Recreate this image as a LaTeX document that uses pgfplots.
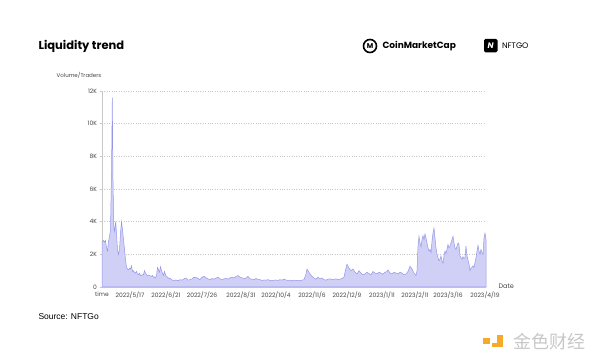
\documentclass[border=0pt]{standalone}
\usepackage{pgfplots}
\pgfplotsset{compat=1.18}
\usepackage{fontspec}
\setmainfont{Poppins}
\newfontfamily\srcfont{Liberation Sans}
\newfontfamily\cjk{Noto Sans CJK SC}
\definecolor{fillc}{RGB}{208,208,246}
\definecolor{linec}{RGB}{150,150,232}
\definecolor{tickc}{RGB}{70,70,70}
\definecolor{gridc}{RGB}{200,200,200}
\definecolor{wmo}{RGB}{245,170,40}
\begin{document}
\begin{tikzpicture}
\path[use as bounding box] (0pt,0pt) rectangle (600pt,363pt);
\node[anchor=west,font=\fontsize{11.5}{13}\selectfont\bfseries] at (35pt,317pt) {Liquidity trend};
% CoinMarketCap logo
\draw[line width=1.6pt] (370pt,317pt) circle (6.5pt);
\node[font=\fontsize{7}{8}\selectfont\bfseries] at (370pt,316.5pt) {M};
\node[anchor=west,font=\fontsize{9}{10}\selectfont\bfseries] at (379pt,317pt) {CoinMarketCap};
% NFTGO logo
\fill[black,rounded corners=1.5pt] (484pt,310.5pt) rectangle (497.5pt,324pt);
\node[white,font=\fontsize{8}{9}\selectfont\bfseries\itshape] at (490.7pt,317.2pt) {N};
\node[anchor=west,font=\fontsize{8}{9}\selectfont] at (498.5pt,317pt) {NFTGO};
\node[font=\fontsize{5.5}{6}\selectfont,text=tickc] at (79pt,288pt) {Volume/Traders};
\node[anchor=west,font=\fontsize{6.5}{7}\selectfont,text=tickc] at (495pt,76.5pt) {Date};
\node[anchor=west,font=\srcfont\fontsize{8.5}{10}\selectfont] at (35pt,46pt) {Source: NFTGo};
% watermark
\fill[wmo] (483pt,19pt) rectangle (490pt,25pt);
\fill[wmo] (497pt,16pt) rectangle (503pt,28pt);
\fill[wmo] (492pt,16pt) rectangle (503pt,20pt);
\node[font=\cjk\fontsize{18}{20}\selectfont,text=black!22] at (549pt,21.5pt) {金色财经};
\begin{axis}[
  at={(102pt,76pt)}, anchor=south west,
  scale only axis, width=384pt, height=196pt,
  xmin=0, xmax=384, ymin=0, ymax=12000,
  axis x line*=bottom, axis y line*=left,
  axis line style={gridc, line width=0.5pt},
  ytick={0,2000,4000,6000,8000,10000,12000},
  yticklabels={0,2K,4K,6K,8K,10K,12K},
  xtick={0,28,64,100,139,174,210,245,280,313,346,383},
  xticklabels={time,2022/5/17,2022/6/21,2022/7/26,2022/8/31,2022/10/4,2022/11/6,2022/12/9,2023/1/11,2023/2/11,2023/3/16,2023/4/19},
  xtick style={draw=none},
  ytick style={gridc, line width=0.5pt},
  tick align=outside, major tick length=2.5pt,
  ymajorgrids, grid style={gridc, dotted, line width=0.5pt},
  tick label style={font=\fontsize{6}{7}\selectfont, text=tickc},
  xticklabel style={yshift=1pt},
  yticklabel style={xshift=1pt},
  scaled y ticks=false,
  clip=false,
]
\addplot[draw=linec, line width=0.5pt, fill=fillc] table {
x y
0 2800
0.7 2800
1.5 2850
2.5 2750
3.5 2850
4.5 2400
5.5 2200
6.5 2800
7.5 3100
8.5 3500
9.5 7000
10.3 11600
11 6500
11.8 3700
12.5 3400
13.7 4000
14.5 3300
15.5 2300
16.5 2000
17.5 2300
18.5 3300
19.5 4000
20.5 3500
21.5 2900
22.5 2300
23.5 1700
24.5 1200
25.5 1100
26.5 1050
27.5 1150
28.5 1100
29.5 1300
30.5 950
31.5 1000
32.5 900
33.5 850
34.5 950
35.5 800
36.5 750
37.5 850
38.5 700
39.5 700
40.5 750
41.5 750
42.5 1000
43.5 850
44.5 750
45.5 700
46.5 720
47.5 700
48.5 680
49.5 650
50.5 700
51.5 600
52.5 620
53.5 550
54.5 700
55.5 1200
56.5 1050
57.5 900
58.5 1250
59.5 1000
60.5 850
61.5 700
62.5 950
63.5 750
64.5 650
65.5 600
66.5 550
67.5 500
68.5 520
69.5 450
70.5 420
72 400
74 430
76 380
78 450
80 420
82 500
84 550
86 420
88 450
90 500
92 600
94 580
96 520
98 450
100 600
102 650
104 560
106 500
108 450
110 520
112 480
114 550
116 600
118 500
120 450
122 500
124 520
126 480
128 560
130 600
132 550
134 650
136 700
138 600
140 560
142 500
144 550
146 650
148 500
150 480
152 450
154 520
156 460
158 450
160 400
162 430
164 420
166 450
168 400
170 380
172 420
174 430
176 400
178 450
180 420
182 480
184 430
186 400
188 420
190 380
192 420
194 400
196 380
198 400
200 420
202 450
204 800
205 1100
206 1000
208 800
210 650
212 550
214 480
216 600
218 500
220 550
222 450
224 420
226 480
228 500
230 450
232 470
234 500
236 450
238 480
240 520
242 600
243 900
245 1400
247 1150
249 1000
251 1100
253 900
255 800
257 1000
259 850
261 750
263 800
265 900
267 820
269 750
271 950
273 850
275 800
277 900
279 850
281 780
283 900
285 950
286 1050
288 850
290 800
292 900
294 850
296 800
298 900
300 850
302 750
304 800
306 950
308 1270
310 1100
312 850
314 700
315 1000
316 2500
317 3100
318 2700
319 2450
320 2900
321 3150
322 2900
323 3250
324 3000
325 2700
326 2400
327 2200
328 2300
329 2100
330 2800
331 3300
332 3600
333 3000
334 2400
335 2000
336 1800
337 1600
338 1700
339 1900
340 1600
341 1450
342 1900
343 2200
344 2050
345 2300
346 2600
347 2400
348 2500
349 2700
350 2900
351 3100
352 2700
353 2400
354 2300
355 2500
356 2700
357 2600
358 1900
359 1800
360 1700
361 1850
362 1750
363 1800
364 2500
365 1900
366 1650
367 1400
368 1000
369 1150
370 1200
371 1300
372 1200
373 1500
374 1800
375 2200
376 2550
377 2200
378 2000
379 2300
380 2100
381 2000
382 3000
383 3300
384 2900
} \closedcycle;
\end{axis}
\end{tikzpicture}
\end{document}
